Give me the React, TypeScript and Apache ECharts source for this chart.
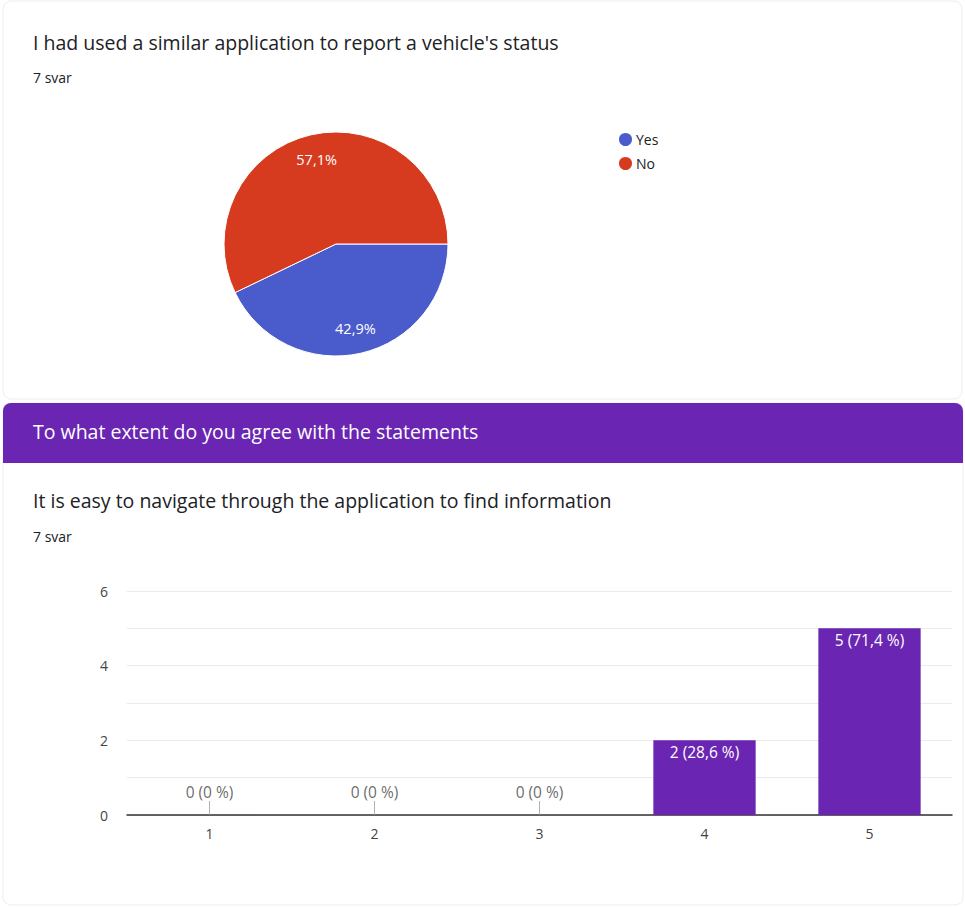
import React, { useEffect, useRef } from "react";
import * as echarts from "echarts";

const pieTitle = "I had used a similar application to report a vehicle's status";
const pieCount = "7 svar";
const sectionTitle = "To what extent do you agree with the statements";
const barTitle = "It is easy to navigate through the application to find information";
const barCount = "7 svar";

const pieNames = ["Yes", "No"];
const pieValues = [3, 4];
const pieColors = ["#4a5ccc", "#d63b1f"];

const barCategories = ["1", "2", "3", "4", "5"];
const barValues = [0, 0, 0, 2, 5];
const yTicks = [0, 2, 4, 6];

const PURPLE = "#6a25b2";
const FONT = "'Open Sans', Roboto, Arial, sans-serif";

function fmtPct(v: number, total: number, space: boolean) {
  const p = (v / total) * 100;
  const r = Math.round(p * 10) / 10;
  const s = Number.isInteger(r) ? String(r) : r.toFixed(1).replace(".", ",");
  return space ? s + " %" : s + "%";
}

export default function App() {
  const ref = useRef<HTMLDivElement>(null);
  useEffect(() => {
    if (!ref.current) return;
    const chart = echarts.init(ref.current, undefined, { renderer: "svg" });
    const pieTotal = pieValues.reduce((a, b) => a + b, 0);
    const barTotal = barValues.reduce((a, b) => a + b, 0);
    const pieData = pieNames.map((n, i) => ({ name: n, value: pieValues[i], itemStyle: { color: pieColors[i] } }));
    const titleStyle = (size: number, color: string) => ({
      fontSize: size,
      fontWeight: "normal",
      color,
      fontFamily: FONT,
    });

    chart.setOption({
      animation: false,
      backgroundColor: "#ffffff",
      textStyle: { fontFamily: FONT },
      graphic: [
        {
          type: "rect",
          z: -10,
          shape: { x: 3, y: 1, width: 959, height: 398, r: 8 },
          style: { fill: "#ffffff", stroke: "#ededed", lineWidth: 1 },
          silent: true,
        },
        {
          type: "rect",
          z: -10,
          shape: { x: 3, y: 403, width: 960, height: 502, r: 8 },
          style: { fill: "#ffffff", stroke: "#ededed", lineWidth: 1 },
          silent: true,
        },
        {
          type: "rect",
          z: -9,
          shape: { x: 3, y: 403, width: 960, height: 60, r: [8, 8, 0, 0] },
          style: { fill: PURPLE },
          silent: true,
        },
      ],
      title: [
        { text: pieTitle, left: 33, top: 32, padding: 0, textStyle: titleStyle(19.5, "#202124") },
        { text: pieCount, left: 33, top: 70, padding: 0, textStyle: titleStyle(14, "#202124") },
        { text: sectionTitle, left: 33, top: 421, padding: 0, textStyle: titleStyle(19.5, "#ffffff") },
        { text: barTitle, left: 33, top: 490, padding: 0, textStyle: titleStyle(19.5, "#202124") },
        { text: barCount, left: 33, top: 529, padding: 0, textStyle: titleStyle(14, "#202124") },
      ],
      legend: {
        orient: "vertical",
        left: 612,
        top: 126,
        icon: "circle",
        itemWidth: 15,
        itemHeight: 15,
        itemGap: 7,
        data: pieNames,
        textStyle: { fontSize: 14, color: "#222222", fontFamily: FONT, padding: [0, 0, 0, -2] },
      },
      grid: { left: 127, top: 591, width: 825, height: 224, containLabel: false },
      xAxis: {
        type: "category",
        data: barCategories,
        axisLine: { lineStyle: { color: "#333333", width: 1.5 } },
        axisTick: { show: false },
        axisLabel: { fontSize: 14, color: "#444444", margin: 11, fontFamily: FONT },
      },
      yAxis: {
        type: "value",
        min: 0,
        max: 6,
        interval: 1,
        axisLine: { show: false },
        axisTick: { show: false },
        splitLine: { lineStyle: { color: "#ebebeb", width: 1 } },
        axisLabel: {
          fontSize: 14,
          color: "#444444",
          margin: 19,
          fontFamily: FONT,
          formatter: (v: number) => (yTicks.includes(v) ? String(v) : ""),
        },
      },
      series: [
        {
          type: "pie",
          center: [336, 244],
          radius: [0, 112],
          startAngle: 0,
          clockwise: true,
          data: pieData,
          label: { show: false },
          labelLine: { show: false },
          itemStyle: { borderColor: "#ffffff", borderWidth: 1 },
          silent: true,
        },
        {
          type: "pie",
          center: [336, 244],
          radius: [56, 112],
          startAngle: 0,
          clockwise: true,
          data: pieNames.map((n, i) => ({ name: n, value: pieValues[i], itemStyle: { color: "rgba(0,0,0,0)" } })),
          legendHoverLink: false,
          label: {
            show: true,
            position: "inside",
            color: "#ffffff",
            fontSize: 14.5,
            fontFamily: FONT,
            formatter: (p: any) => fmtPct(p.value, pieTotal, false),
          },
          labelLine: { show: false },
          silent: true,
        },
        {
          type: "bar",
          data: barValues,
          barWidth: "62%",
          itemStyle: { color: PURPLE },
          label: {
            show: true,
            position: "insideTop",
            distance: 4,
            color: "#ffffff",
            fontSize: 15.5,
            fontFamily: FONT,
            formatter: (p: any) => (p.value > 0 ? `${p.value} (${fmtPct(p.value, barTotal, true)})` : ""),
          },
          silent: true,
        },
        {
          type: "scatter",
          data: barValues.map((v) => (v === 0 ? 0 : null)),
          symbol: "rect",
          symbolSize: [1, 14],
          symbolOffset: [0, -7],
          itemStyle: { color: "#9e9e9e" },
          label: {
            show: true,
            position: "top",
            distance: 1,
            color: "#444444",
            fontSize: 15.5,
            fontFamily: FONT,
            formatter: (p: any) => `${p.value} (${fmtPct(p.value, barTotal, true)})`,
          },
          silent: true,
        },
      ],
    });
    return () => chart.dispose();
  }, []);
  return <div ref={ref} style={{ position: "fixed", left: 0, top: 0, width: 965, height: 907 }} />;
}
